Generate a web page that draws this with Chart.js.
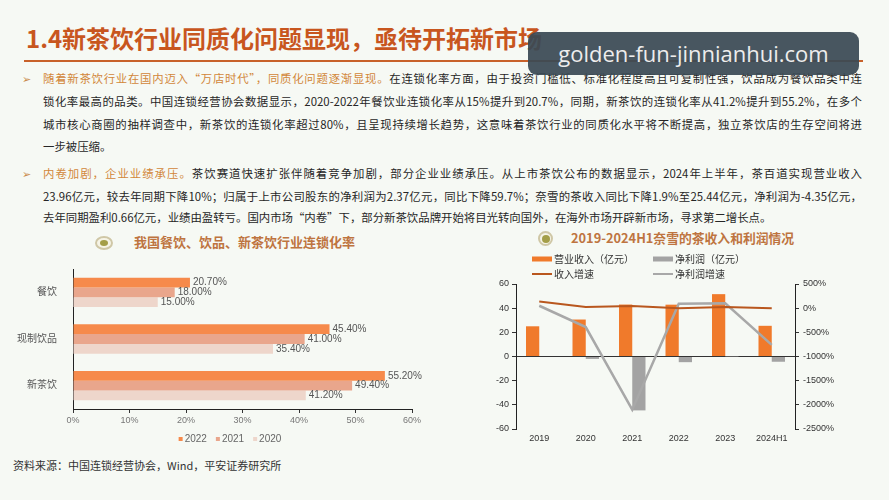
<!DOCTYPE html>
<html><head><meta charset="utf-8">
<script src="https://cdn.jsdelivr.net/npm/chart.js@4.4.1/dist/chart.umd.min.js"></script>
<style>
html,body{margin:0;padding:0;}
body{width:889px;height:500px;position:relative;overflow:hidden;background:#F6F9F4;font-family:"Noto Sans CJK SC","Noto Sans",sans-serif;color:#262626;}
.abs{position:absolute;}
#title{left:26px;top:23px;font-size:24px;font-weight:bold;color:#C8561E;line-height:30px;white-space:nowrap;}
#rule{left:24px;top:60px;width:839px;height:2px;background:#C8612A;}
.ln{position:absolute;left:43px;width:819px;height:22px;line-height:22px;font-size:11.4px;text-align:justify;text-align-last:justify;overflow:hidden;}
.ln.last{text-align-last:left;}
.hl{color:#D2873A;}
.bul{position:absolute;left:22px;font-size:11px;color:#C98A4A;line-height:22px;}
.ctitle{position:absolute;font-weight:bold;color:#BE7440;white-space:nowrap;}
#wm{left:528px;top:32px;width:331px;height:43px;background:rgba(58,73,84,0.93);border-radius:9px;color:#EDEDED;font-family:"Open Sans","Noto Sans",sans-serif;font-size:22px;line-height:43px;text-align:center;}
#src{left:13px;top:456px;font-size:11px;color:#333;line-height:18px;white-space:nowrap;}
canvas{position:absolute;}
</style></head>
<body>
<div id="title" class="abs">1.4新茶饮行业同质化问题显现，亟待开拓新市场</div>
<div id="rule" class="abs"></div>

<div class="bul" style="top:67px">➢</div>
<div class="ln" style="top:67px"><span class="hl">随着新茶饮行业在国内迈入“万店时代”，同质化问题逐渐显现。</span>在连锁化率方面，由于投资门槛低、标准化程度高且可复制性强，饮品成为餐饮品类中连</div>
<div class="ln" style="top:90px">锁化率最高的品类。中国连锁经营协会数据显示，2020-2022年餐饮业连锁化率从15%提升到20.7%，同期，新茶饮的连锁化率从41.2%提升到55.2%，在多个</div>
<div class="ln" style="top:113px">城市核心商圈的抽样调查中，新茶饮的连锁化率超过80%，且呈现持续增长趋势，这意味着茶饮行业的同质化水平将不断提高，独立茶饮店的生存空间将进</div>
<div class="ln last" style="top:135px">一步被压缩。</div>

<div class="bul" style="top:162px">➢</div>
<div class="ln" style="top:162px"><span class="hl">内卷加剧，企业业绩承压。</span>茶饮赛道快速扩张伴随着竞争加剧，部分企业业绩承压。从上市茶饮公布的数据显示，2024年上半年，茶百道实现营业收入</div>
<div class="ln" style="top:185px">23.96亿元，较去年同期下降10%；归属于上市公司股东的净利润为2.37亿元，同比下降59.7%；奈雪的茶收入同比下降1.9%至25.44亿元，净利润为-4.35亿元，</div>
<div class="ln last" style="top:206px">去年同期盈利0.66亿元，业绩由盈转亏。国内市场“内卷”下，部分新茶饮品牌开始将目光转向国外，在海外市场开辟新市场，寻求第二增长点。</div>

<div class="abs" style="left:95px;top:236px;width:14px;height:10px;border:2px solid #CFC7A6;border-radius:50%;background:#F6F4E6;"></div>
<div class="abs" style="left:100px;top:240px;width:8px;height:6px;border-radius:50%;background:#A49E48;"></div>
<div class="ctitle" style="left:134px;top:233px;font-size:13px;line-height:18px;">我国餐饮、饮品、新茶饮行业连锁化率</div>

<div class="abs" style="left:538px;top:231px;width:11px;height:11px;border:2px solid #CFC7A6;border-radius:50%;background:#F6F4E6;"></div>
<div class="abs" style="left:541.5px;top:234.5px;width:8px;height:8px;border-radius:50%;background:#A49E48;"></div>
<div class="ctitle" style="left:571px;top:229px;font-size:12.8px;line-height:18px;">2019-2024H1奈雪的茶收入和利润情况</div>

<canvas id="c1" width="460" height="195" style="left:0;top:255px;"></canvas>
<canvas id="c2" width="429" height="205" style="left:460px;top:245px;"></canvas>

<div id="src" class="abs">资料来源：中国连锁经营协会，Wind，平安证券研究所</div>
<div id="wm" class="abs">golden-fun-jinnianhui.com</div>

<script>
// ---- Left chart data ----
const barCategories = ['餐饮', '现制饮品', '新茶饮'];
const barYears = ['2022', '2021', '2020'];
const rate2022 = [20.7, 45.4, 55.2];
const rate2021 = [18.0, 41.0, 49.4];
const rate2020 = [15.0, 35.4, 41.2];
const rateAxisMax = 60;
const rateAxisStep = 10;

// ---- Right chart data ----
const periods = ['2019', '2020', '2021', '2022', '2023', '2024H1'];
const revenue = [25.0, 30.6, 43.0, 42.9, 51.6, 25.4];
const netProfit = [-0.4, -2.0, -44.6, -4.7, 0.1, -4.35];
const revenueGrowth = [140, 25, 45, 0, 22, -2];
const profitGrowth = [50, -390, -2100, 90, 100, -760];
const seriesNames = ['营业收入（亿元）', '净利润（亿元）', '收入增速', '净利润增速'];

Chart.defaults.font.family = '"Liberation Sans","Noto Sans CJK SC",sans-serif';

const barLabelPlugin = {
  id: 'barLabels',
  afterDatasetsDraw(chart) {
    const ctx = chart.ctx;
    ctx.save();
    ctx.font = '10px "Liberation Sans","Noto Sans CJK SC",sans-serif';
    ctx.fillStyle = '#555';
    ctx.textAlign = 'left';
    ctx.textBaseline = 'middle';
    chart.data.datasets.forEach((ds, i) => {
      chart.getDatasetMeta(i).data.forEach((el, j) => {
        ctx.fillText(ds.data[j].toFixed(2) + '%', el.x + 3, el.y);
      });
    });
    ctx.restore();
  }
};

const leftLegendPlugin = {
  id: 'leftLegend',
  afterDraw(chart) {
    const ctx = chart.ctx;
    ctx.save();
    ctx.font = '10px "Liberation Sans",sans-serif';
    ctx.textBaseline = 'middle';
    const y = 184;
    const items = chart.data.datasets.map(d => ({t: d.label, c: d.backgroundColor}));
    let total = 0;
    items.forEach((it, k) => { total += 6 + ctx.measureText(it.t).width + (k < items.length - 1 ? 9 : 0); });
    let x = 230 - total / 2;
    items.forEach(it => {
      ctx.fillStyle = it.c;
      ctx.fillRect(x, y - 2, 4, 4);
      x += 6;
      ctx.fillStyle = '#666';
      ctx.fillText(it.t, x, y);
      x += ctx.measureText(it.t).width + 9;
    });
    ctx.restore();
  }
};

new Chart(document.getElementById('c1'), {
  type: 'bar',
  data: {
    labels: barCategories,
    datasets: [
      {label: barYears[0], data: rate2022, backgroundColor: '#F68A4B', categoryPercentage: 0.63, barPercentage: 1},
      {label: barYears[1], data: rate2021, backgroundColor: '#E9A68C', categoryPercentage: 0.63, barPercentage: 1},
      {label: barYears[2], data: rate2020, backgroundColor: '#EED6CB', categoryPercentage: 0.63, barPercentage: 1}
    ]
  },
  options: {
    indexAxis: 'y',
    responsive: false,
    animation: false,
    devicePixelRatio: 1,
    layout: {padding: {top: 7, right: 48, bottom: 21, left: 0}},
    plugins: {legend: {display: false}, tooltip: {enabled: false}},
    scales: {
      x: {
        min: 0, max: rateAxisMax,
        ticks: {stepSize: rateAxisStep, callback: v => v + '%', color: '#777', font: {size: 9}, padding: 2},
        grid: {drawOnChartArea: false, drawTicks: true, tickLength: 4, color: '#333'},
        border: {display: true, color: '#222', width: 1},
        afterFit: s => { s.height = 20; }
      },
      y: {
        ticks: {color: '#555', font: {size: 10}, padding: 8},
        grid: {display: false},
        border: {display: true, color: '#222', width: 1},
        afterFit: s => { s.width = 73; }
      }
    }
  },
  plugins: [barLabelPlugin, leftLegendPlugin]
});

const rightLegendPlugin = {
  id: 'rightLegend',
  afterDraw(chart) {
    const ctx = chart.ctx;
    ctx.save();
    ctx.font = '10px "Noto Sans CJK SC",sans-serif';
    ctx.textBaseline = 'middle';
    const pos = [[72, 14], [193, 14], [72, 29], [193, 29]];
    chart.data.datasets.forEach((ds, i) => {
      const [x, y] = pos[i];
      if (ds.type === 'bar') {
        ctx.fillStyle = ds.backgroundColor;
        ctx.fillRect(x, y - 2.5, 20, 5);
      } else {
        ctx.strokeStyle = ds.borderColor;
        ctx.lineWidth = 2;
        ctx.beginPath(); ctx.moveTo(x, y); ctx.lineTo(x + 20, y); ctx.stroke();
      }
      ctx.fillStyle = '#333';
      ctx.fillText(ds.label, x + 22, y);
    });
    ctx.restore();
  }
};

new Chart(document.getElementById('c2'), {
  data: {
    labels: periods,
    datasets: [
      {type: 'bar', label: seriesNames[0], data: revenue, backgroundColor: '#F07A2B', yAxisID: 'y', order: 1, categoryPercentage: 0.57, barPercentage: 1},
      {type: 'bar', label: seriesNames[1], data: netProfit, backgroundColor: '#A3A3A3', yAxisID: 'y', order: 1, categoryPercentage: 0.57, barPercentage: 1},
      {type: 'line', label: seriesNames[2], data: revenueGrowth, yAxisID: 'y1', borderColor: '#B9571E', borderWidth: 2, pointRadius: 0, order: 0, tension: 0},
      {type: 'line', label: seriesNames[3], data: profitGrowth, yAxisID: 'y1', borderColor: '#A8A8A8', borderWidth: 2.5, pointRadius: 0, order: 0, tension: 0}
    ]
  },
  options: {
    responsive: false,
    animation: false,
    devicePixelRatio: 1,
    layout: {padding: {top: 39, right: 0, bottom: 0, left: 0}},
    plugins: {legend: {display: false}, tooltip: {enabled: false}},
    scales: {
      x: {
        ticks: {color: '#333', font: {size: 9}, padding: 4},
        grid: {display: false, drawTicks: false},
        border: {display: false},
        afterFit: s => { s.height = 21; }
      },
      y: {
        position: 'left',
        min: -60, max: 60,
        ticks: {stepSize: 20, color: '#333', font: {size: 9}, padding: 3},
        grid: {
          drawOnChartArea: true, drawTicks: true, tickLength: 4,
          color: c => (c.tick && c.tick.value === 0) ? '#333' : 'rgba(0,0,0,0)',
          tickColor: '#333'
        },
        border: {display: true, color: '#222', width: 1},
        afterFit: s => { s.width = 56; }
      },
      y1: {
        position: 'right',
        min: -2500, max: 500,
        ticks: {stepSize: 500, callback: v => v + '%', color: '#333', font: {size: 9}, padding: 4},
        grid: {drawOnChartArea: false, drawTicks: true, tickLength: 4, color: '#333'},
        border: {display: true, color: '#222', width: 1},
        afterFit: s => { s.width = 94; }
      }
    }
  },
  plugins: [rightLegendPlugin]
});
</script>
</body></html>
